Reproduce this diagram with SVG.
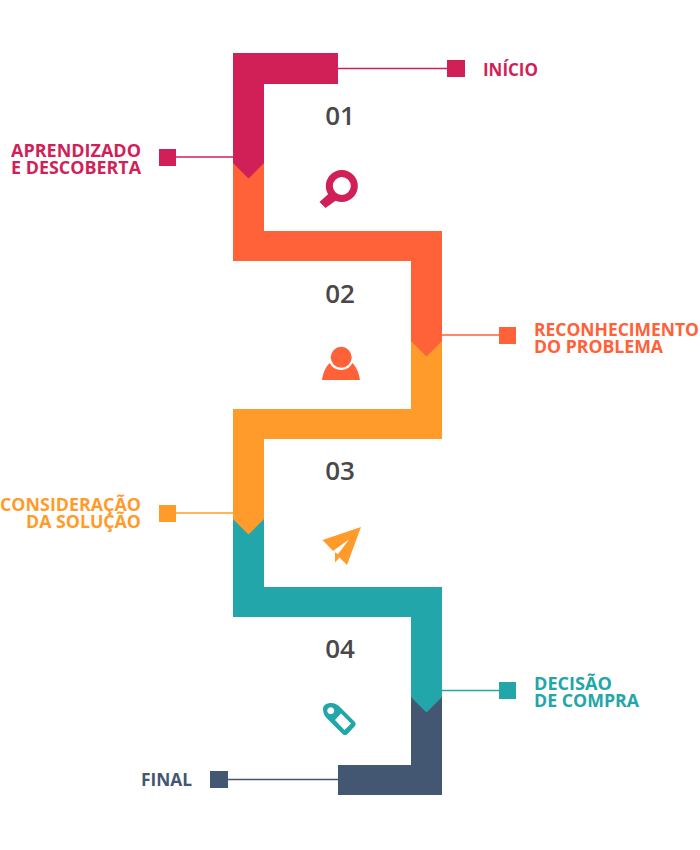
<svg xmlns="http://www.w3.org/2000/svg" width="700" height="850" viewBox="0 0 700 850">
<style>
.lb{font-family:"Open Sans","Noto Sans","Liberation Sans",sans-serif;font-weight:700;font-size:17.5px}
.n{font-family:"Open Sans","Noto Sans",sans-serif;font-weight:600;font-size:26px;fill:#484848;text-anchor:middle}
.e{text-anchor:end}
.ln{fill:none;stroke-width:1.6}
.c1{fill:#d11f57}.c2{fill:#ff6138}.c3{fill:#ff9b2b}.c4{fill:#23a6a9}.c5{fill:#435672}
.s1{stroke:#d11f57}.s2{stroke:#ff6138}.s3{stroke:#ff9b2b}.s4{stroke:#23a6a9}.s5{stroke:#435672}
</style>
<rect width="700" height="850" fill="#fff"/>
<g id="connectors">
<path class="ln s1" d="M338 68.500H448"/>
<path class="ln s1" d="M176 157H233"/>
<path class="ln s2" d="M442 335H500"/>
<path class="ln s3" d="M176 513H233"/>
<path class="ln s4" d="M442 690.500H500"/>
<path class="ln s5" d="M228 779.500H338"/>
</g>
<g id="band">
<path class="c5" d="M411 690H442V795H338V765H411Z"/>
<path class="c4" d="M233 512H264V587H442V697L426.500 712.500 411 697V617H233Z"/>
<path class="c3" d="M411 335H442V439H264V519L248.500 534.500 233 519V409H411Z"/>
<path class="c2" d="M233 157H264V231H442V341L426.500 356.500 411 341V261H233Z"/>
<path class="c1" d="M233 53H338V84H264V163L248.500 178.500 233 163Z"/>
</g>
<g id="step-inicio"><rect class="c1" x="447" y="60" width="18" height="17"/><text class="lb c1" x="483" y="75.500" textLength="55" lengthAdjust="spacingAndGlyphs">INÍCIO</text></g>
<g id="step-aprendizado"><rect class="c1" x="159" y="149" width="17" height="17"/><text class="lb c1"><tspan x="11" y="157" textLength="130" lengthAdjust="spacingAndGlyphs">APRENDIZADO</tspan><tspan x="11" y="174" textLength="130" lengthAdjust="spacingAndGlyphs">E DESCOBERTA</tspan></text></g>
<g id="step-reconhecimento"><rect class="c2" x="499" y="327" width="17" height="17"/><text class="lb c2"><tspan x="534" y="335.500" textLength="165" lengthAdjust="spacingAndGlyphs">RECONHECIMENTO</tspan><tspan x="534" y="352.500" textLength="129" lengthAdjust="spacingAndGlyphs">DO PROBLEMA</tspan></text></g>
<g id="step-consideracao"><rect class="c3" x="159" y="505" width="17" height="17"/><text class="lb c3"><tspan x="0" y="511" textLength="141" lengthAdjust="spacingAndGlyphs">CONSIDERAÇÃO</tspan><tspan x="26" y="528" textLength="115" lengthAdjust="spacingAndGlyphs">DA SOLUÇÃO</tspan></text></g>
<g id="step-decisao"><rect class="c4" x="499" y="682" width="17" height="17"/><text class="lb c4"><tspan x="534" y="689.500" textLength="78" lengthAdjust="spacingAndGlyphs">DECISÃO</tspan><tspan x="534" y="706.500" textLength="105" lengthAdjust="spacingAndGlyphs">DE COMPRA</tspan></text></g>
<g id="step-final"><rect class="c5" x="210" y="771" width="18" height="17"/><text class="lb c5" x="141" y="785.500" textLength="51" lengthAdjust="spacingAndGlyphs">FINAL</text></g>
<g id="stage-01"><text class="n" x="340" y="125">01</text>
<circle cx="341.800" cy="186" r="12.500" fill="none" stroke="#d11f57" stroke-width="7"/>
<path class="c1" d="M319.500 202L331 191.500 338 199 325.500 208Z"/></g>
<g id="stage-02"><text class="n" x="340" y="303">02</text>
<circle class="c2" cx="341.200" cy="357.300" r="10.500"/>
<path class="c2" d="M322 380C323 372.500 326 366.500 329.700 363A12.700 12.700 0 0 0 352.400 363C356 366.500 359 372.500 360 380Z"/></g>
<g id="stage-03"><text class="n" x="340" y="480">03</text>
<path class="c3" d="M322.500 540L361 527 347 565 339.500 557.500 335 562.500V552.500L338 554 349.500 539 333 551Z"/></g>
<g id="stage-04"><text class="n" x="340" y="658">04</text>
<path fill-rule="evenodd" class="c4" d="M323 709C323 705 327 703 331 703C335 703 338 705 340 707L354.500 721.500C356 723 356 725 354.500 726.500L347.500 734C346 735.500 344 735.500 342.500 734L327 718.500C324.500 716 323 713 323 709ZM330.700 707.200A3.500 3.500 0 1 0 330.800 707.200ZM341 713.500L335 720 344.500 730 351 723.500Z"/></g>
</svg>
